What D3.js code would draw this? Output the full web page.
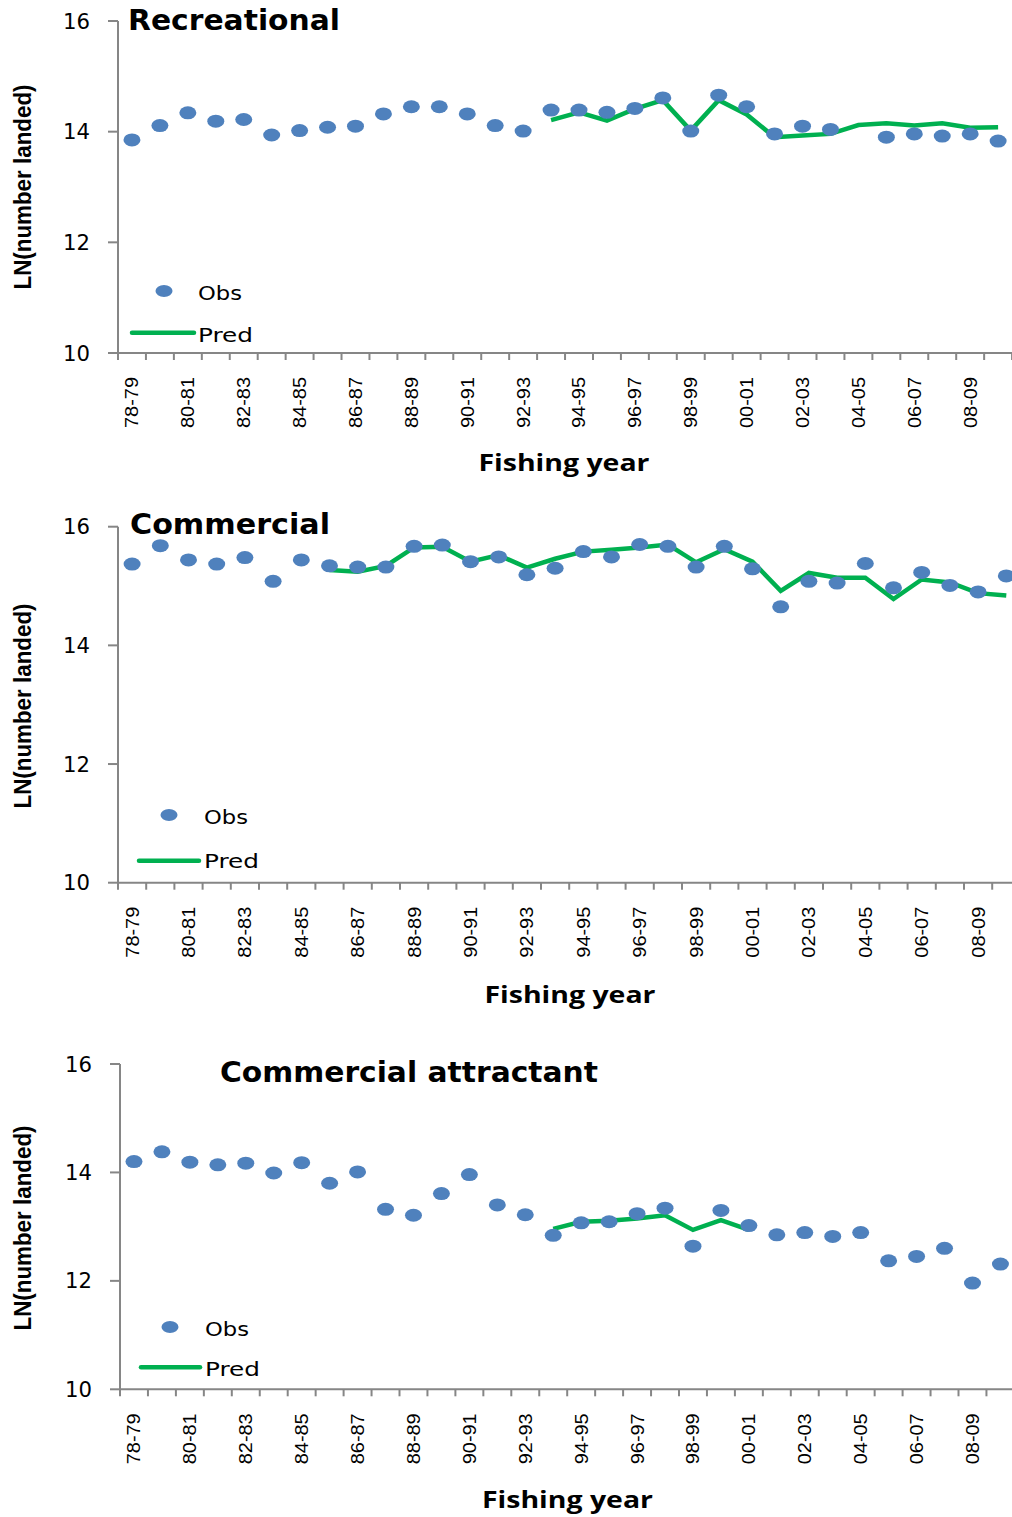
<!DOCTYPE html>
<html>
<head>
<meta charset="utf-8">
<script src="https://cdn.jsdelivr.net/npm/d3@7"></script>
<style>
  html, body { margin: 0; padding: 0; background: #fff; }
  svg { display: block; }
</style>
</head>
<body>
<svg id="chart" width="1012" height="1517"></svg>
<script>
// ---------- DATA ----------
const years = ["78-79","79-80","80-81","81-82","82-83","83-84","84-85","85-86","86-87","87-88",
  "88-89","89-90","90-91","91-92","92-93","93-94","94-95","95-96","96-97","97-98",
  "98-99","99-00","00-01","01-02","02-03","03-04","04-05","05-06","06-07","07-08",
  "08-09","09-10"];
const yTicks = [10, 12, 14, 16];

const recObs = [13.85, 14.11, 14.34, 14.19, 14.22, 13.94, 14.02, 14.08, 14.10, 14.32,
  14.45, 14.45, 14.32, 14.11, 14.01, 14.39, 14.39, 14.35, 14.42, 14.61,
  14.01, 14.66, 14.45, 13.96, 14.10, 14.04, null, 13.90, 13.96, 13.92,
  13.96, 13.83];
const recPred = [null, null, null, null, null, null, null, null, null, null,
  null, null, null, null, null, 14.21, 14.35, 14.20, 14.41, 14.57,
  14.02, 14.57, 14.31, 13.90, 13.93, 13.96, 14.12, 14.15, 14.11, 14.15,
  14.07, 14.08];

const comObs = [15.37, 15.68, 15.44, 15.37, 15.48, 15.08, 15.44, 15.34, 15.32, 15.32,
  15.67, 15.69, 15.41, 15.49, 15.19, 15.30, 15.58, 15.49, 15.70, 15.67,
  15.32, 15.67, 15.29, 14.65, 15.08, 15.05, 15.38, 14.97, 15.23, 15.01,
  14.90, 15.17];
const comPred = [null, null, null, null, null, null, null, 15.27, 15.24, 15.34,
  15.65, 15.66, 15.41, 15.52, 15.31, 15.46, 15.58, 15.61, 15.65, 15.70,
  15.40, 15.62, 15.41, 14.92, 15.22, 15.14, 15.14, 14.78, 15.11, 15.06,
  14.88, 14.84];

const attObs = [14.20, 14.38, 14.19, 14.14, 14.17, 13.99, 14.18, 13.80, 14.01, 13.32,
  13.21, 13.61, 13.96, 13.40, 13.22, 12.84, 13.07, 13.09, 13.24, 13.34,
  12.64, 13.30, 13.02, 12.85, 12.89, 12.82, 12.89, 12.37, 12.45, 12.60,
  11.96, 12.31];
const attPred = [null, null, null, null, null, null, null, null, null, null,
  null, null, null, null, null, 12.96, 13.09, 13.11, 13.15, 13.21,
  12.94, 13.12, 12.94, null, null, null, null, null, null, null,
  null, null];

const titles = ["Recreational", "Commercial", "Commercial attractant"];
const legendLabels = ["Obs", "Pred"];
const yLabel = "LN(number landed)";
const xLabel = "Fishing year";

// ---------- LAYOUT ----------
const panels = [
  { obs: recObs, pred: recPred, title: titles[0],
    x0: 118, band: 27.94, yTop: 21, yBot: 353,
    titleX: 128, titleY: 30, titleW: 212,
    yLabCY: 187, xLabCX: 564, xLabY: 471,
    legMark: [164, 291], legTextX: 198, obsY: 300, predY: 341.5, lineY: 332.7, lineX: [132, 194] },
  { obs: comObs, pred: comPred, title: titles[1],
    x0: 118, band: 28.2, yTop: 526.7, yBot: 882.7,
    titleX: 130, titleY: 534, titleW: 200,
    yLabCY: 706, xLabCX: 570, xLabY: 1003,
    legMark: [169, 815], legTextX: 204, obsY: 823.5, predY: 867.7, lineY: 860.7, lineX: [139, 199] },
  { obs: attObs, pred: attPred, title: titles[2],
    x0: 120, band: 27.95, yTop: 1064, yBot: 1389.3,
    titleX: 220, titleY: 1081.7, titleW: 378,
    yLabCY: 1228, xLabCX: 567.5, xLabY: 1508,
    legMark: [170, 1327], legTextX: 205, obsY: 1335.5, predY: 1376, lineY: 1367.3, lineX: [141, 200] }
];

const BLUE = "#4F81BD", GREEN = "#00B050", AXIS = "#868686";
const svg = d3.select("#chart");

panels.forEach(p => {
  const g = svg.append("g");
  const x = d3.scaleBand().domain(years).range([p.x0, p.x0 + p.band * years.length]);
  const y = d3.scaleLinear().domain([10, 16]).range([p.yBot, p.yTop]);

  // y axis
  g.append("line").attr("x1", p.x0).attr("x2", p.x0).attr("y1", y(16)).attr("y2", y(10))
    .attr("stroke", AXIS).attr("stroke-width", 2);
  g.selectAll(".yt").data(yTicks).enter().append("line")
    .attr("x1", p.x0 - 10).attr("x2", p.x0).attr("y1", d => y(d)).attr("y2", d => y(d))
    .attr("stroke", AXIS).attr("stroke-width", 2);
  g.selectAll(".ytl").data(yTicks).enter().append("text")
    .attr("x", p.x0 - 28).attr("y", d => y(d)).attr("dy", "0.36em")
    .attr("text-anchor", "end")
    .attr("font-family", "DejaVu Sans").attr("font-size", 21)
    .attr("textLength", 27).attr("lengthAdjust", "spacingAndGlyphs")
    .text(d => d);

  // x axis
  g.append("line").attr("x1", p.x0).attr("x2", p.x0 + p.band * years.length)
    .attr("y1", y(10)).attr("y2", y(10)).attr("stroke", AXIS).attr("stroke-width", 2);
  const bounds = years.map(d => x(d)).concat([x(years[years.length - 1]) + x.bandwidth()]);
  g.selectAll(".xt").data(bounds).enter().append("line")
    .attr("x1", d => d).attr("x2", d => d).attr("y1", y(10)).attr("y2", y(10) + 7)
    .attr("stroke", AXIS).attr("stroke-width", 2);
  g.selectAll(".xtl").data(years.filter((d, i) => i % 2 === 0)).enter().append("text")
    .attr("transform", d => `translate(${x(d) + x.bandwidth() / 2},${y(10) + 24}) rotate(-90)`)
    .attr("dy", "0.36em")
    .attr("text-anchor", "end")
    .attr("font-family", "Liberation Sans").attr("font-size", 18)
    .attr("textLength", 51).attr("lengthAdjust", "spacingAndGlyphs")
    .text(d => d);

  // axis titles
  g.append("text")
    .attr("transform", `translate(31,${p.yLabCY}) rotate(-90)`)
    .attr("text-anchor", "middle")
    .attr("font-family", "Liberation Sans").attr("font-weight", "bold").attr("font-size", 24)
    .attr("textLength", 205).attr("lengthAdjust", "spacingAndGlyphs")
    .text(yLabel);
  g.append("text")
    .attr("x", p.xLabCX).attr("y", p.xLabY)
    .attr("text-anchor", "middle")
    .attr("font-family", "Open Sans").attr("font-weight", "bold").attr("font-size", 23)
    .attr("textLength", 171).attr("lengthAdjust", "spacingAndGlyphs")
    .text(xLabel);

  // title
  g.append("text")
    .attr("x", p.titleX).attr("y", p.titleY)
    .attr("font-family", "DejaVu Sans").attr("font-weight", "bold").attr("font-size", 28)
    .attr("textLength", p.titleW).attr("lengthAdjust", "spacingAndGlyphs")
    .text(p.title);

  // pred line
  const line = d3.line()
    .defined(d => d.v != null)
    .x(d => x(d.k) + x.bandwidth() / 2)
    .y(d => y(d.v));
  g.append("path")
    .datum(years.map((k, i) => ({ k, v: p.pred[i] })))
    .attr("d", line)
    .attr("fill", "none").attr("stroke", GREEN).attr("stroke-width", 4.5)
    .attr("stroke-linejoin", "miter");

  // obs dots
  g.selectAll(".dot").data(years.map((k, i) => ({ k, v: p.obs[i] })).filter(d => d.v != null))
    .enter().append("ellipse")
    .attr("cx", d => x(d.k) + x.bandwidth() / 2)
    .attr("cy", d => y(d.v))
    .attr("rx", 8.5).attr("ry", 6.5)
    .attr("fill", BLUE);

  // legend
  g.append("ellipse").attr("cx", p.legMark[0]).attr("cy", p.legMark[1])
    .attr("rx", 8.5).attr("ry", 6).attr("fill", BLUE);
  g.append("line").attr("x1", p.lineX[0]).attr("x2", p.lineX[1])
    .attr("y1", p.lineY).attr("y2", p.lineY)
    .attr("stroke", GREEN).attr("stroke-width", 4.5).attr("stroke-linecap", "round");
  g.append("text").attr("x", p.legTextX).attr("y", p.obsY)
    .attr("font-family", "DejaVu Sans").attr("font-size", 20)
    .attr("textLength", 44).attr("lengthAdjust", "spacingAndGlyphs")
    .text(legendLabels[0]);
  g.append("text").attr("x", p.legTextX).attr("y", p.predY)
    .attr("font-family", "DejaVu Sans").attr("font-size", 20)
    .attr("textLength", 55).attr("lengthAdjust", "spacingAndGlyphs")
    .text(legendLabels[1]);
});
</script>
</body>
</html>
